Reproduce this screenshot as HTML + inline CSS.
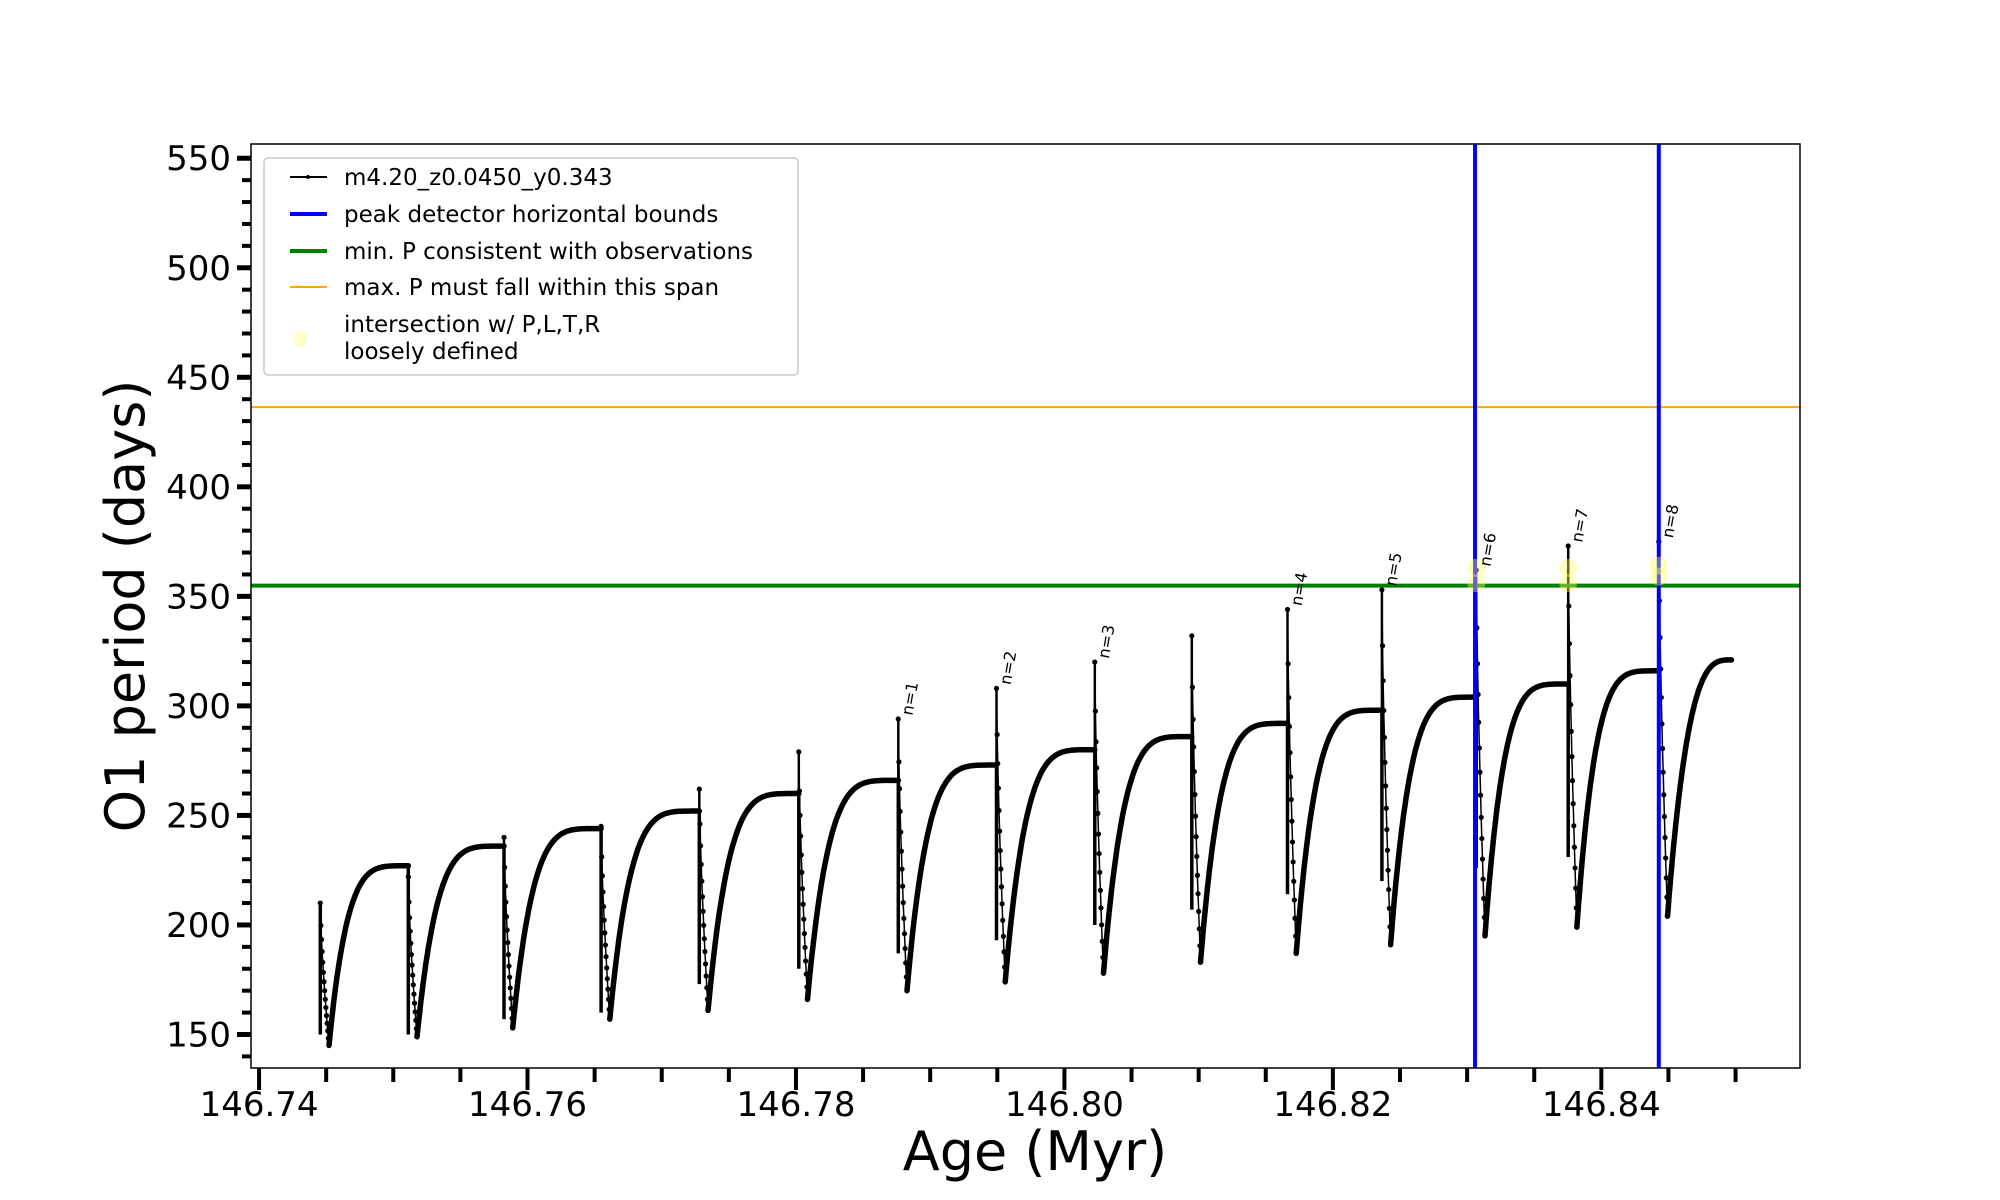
<!DOCTYPE html>
<html><head><meta charset="utf-8"><style>
body{margin:0;background:#fff}
svg{display:block;font-family:"DejaVu Sans","Liberation Sans",sans-serif}
</style></head><body>
<svg id="chart" width="2000" height="1200" viewBox="0 0 2000 1200">
<rect width="2000" height="1200" fill="#fff"/>
<g id="plot"></g>
</svg>
<script>
const pulseAge=[146.74456,146.75112,146.75825,146.76548,146.77280,146.78021,146.78762,146.79494,146.80226,146.80949,146.81662,146.82365,146.83068,146.83753,146.84428];
const plateauP=[227,236,244,252,260,266,273,280,286,292,298,304,310,316];
const peakP=[210,222,240,245,262,279,294,308,320,332,344,353,362,373,375];
const legP=[150,150,157,160,173,180,187,193,200,207,214,220,226,231,236];
const minP=[145,149,153,157,161,166,170,174,178,183,187,191,195,199,204];
const endAge=146.8497, endP=321;
const nLabels=["n=1","n=2","n=3","n=4","n=5","n=6","n=7","n=8"];
const nIndex=[6,7,8,10,11,12,13,14];
const boundAges=[146.83059,146.84428];
const minPline=354.9, maxPline=436.4;
const interAges=[146.83068,146.83068,146.83753,146.83753,146.84428,146.84428];
const interP=[363,356,363,356,364,359];
const yTicks=[150,200,250,300,350,400,450,500,550];
const xTicks=[146.74,146.76,146.78,146.80,146.82,146.84];

const L=251,R=1800,T=144,B=1068;
const x0=146.7394,x1=146.8548,y0=134.7,y1=556.5;
const X=v=>L+(v-x0)/(x1-x0)*(R-L);
const Y=v=>B-(v-y0)/(y1-y0)*(B-T);
const NS="http://www.w3.org/2000/svg";
const g=document.getElementById('plot');
function el(tag,attrs,parent){const e=document.createElementNS(NS,tag);for(const k in attrs)e.setAttribute(k,attrs[k]);(parent||g).appendChild(e);return e;}
const toPath=a=>a.map((p,j)=>(j?'L':'M')+X(p[0]).toFixed(1)+' '+Y(p[1]).toFixed(1)).join(' ');

for(let i=0;i<pulseAge.length;i++){
  const t=pulseAge[i];
  const prevPl=i>0?plateauP[i-1]:peakP[0];
  const tm=t+0.00065;
  let p=el('path',{d:toPath([[t,prevPl],[t,peakP[i]]]),stroke:'#000','stroke-width':2.5,fill:'none'});
  
  
  p=el('path',{d:toPath([[t,prevPl],[t,legP[i]]]),stroke:'#000','stroke-width':3.5,fill:'none'});
  
  
  const desc=[];for(let k=0;k<=14;k++){const s=k/14;desc.push([t+(tm-t)*s,peakP[i]-(peakP[i]-minP[i])*Math.pow(s,0.7)]);}
  p=el('path',{d:toPath(desc),stroke:'#000','stroke-width':1.5,fill:'none'});
  
  
  desc.forEach(q=>el('circle',{cx:X(q[0]),cy:Y(q[1]),r:2.6,fill:'#000'}));
  const tEnd=i<pulseAge.length-1?pulseAge[i+1]:endAge;
  const pEnd=i<pulseAge.length-1?plateauP[i]:endP;
  const pts=[];
  for(let k=0;k<=100;k++){const s=k/100;const f=i<pulseAge.length-1?1-Math.pow(1-s,4.5):1-Math.pow(1-s,3.2);pts.push([tm+(tEnd-tm)*s,minP[i]+(pEnd-minP[i])*f]);}
  p=el('path',{d:toPath(pts),stroke:'#000','stroke-width':5.5,fill:'none','stroke-linejoin':'round','stroke-linecap':'round'});
  
  
}

let h=el('line',{x1:L,x2:R,y1:Y(maxPline),y2:Y(maxPline),stroke:'orange','stroke-width':2});


h=el('line',{x1:L,x2:R,y1:Y(minPline),y2:Y(minPline),stroke:'green','stroke-width':4});


boundAges.forEach(a=>{const v=el('line',{x1:X(a),x2:X(a),y1:T,y2:B,stroke:'#0000ff','stroke-width':4});

});
interAges.forEach((a,i)=>{const c=el('circle',{cx:X(a),cy:Y(interP[i]),r:9,fill:'#ffff66','fill-opacity':0.4});

});
nLabels.forEach((s,i)=>{const j=nIndex[i];const x=X(pulseAge[j])+14,y=Y(peakP[j])-3;
const t=el('text',{x:x,y:y,'font-size':16,transform:`rotate(-80 ${x} ${y})`});t.textContent=s;

});

const fr=el('rect',{x:L,y:T,width:R-L,height:B-T,fill:'none',stroke:'#000','stroke-width':1.5});


for(let v=140;v<=556;v+=10){const maj=v%50===0;el('line',{x1:L,x2:L-(maj?14:9),y1:Y(v),y2:Y(v),stroke:'#000','stroke-width':maj?5:4});}
yTicks.forEach(v=>{const t=el('text',{x:L-20,y:Y(v)+12,'font-size':34,'text-anchor':'end'});t.textContent=v;

});
for(let k=0;k<=22;k++){const v=146.74+k*0.005;if(v>x1)break;const maj=k%4===0;el('line',{x1:X(v),x2:X(v),y1:B,y2:B+(maj?22:14),stroke:'#000','stroke-width':4});}
xTicks.forEach(v=>{const t=el('text',{x:X(v),y:B+48,'font-size':34,'text-anchor':'middle'});t.textContent=v.toFixed(2);

});
let xl=el('text',{x:1035,y:1170,'font-size':54,'text-anchor':'middle'});xl.textContent='Age (Myr)';


let yl=el('text',{x:0,y:0,'font-size':54,'text-anchor':'middle',transform:'translate(144 606) rotate(-90)'});yl.textContent='O1 period (days)';



const lg=el('g',{});


el('rect',{x:264,y:158,width:534,height:217,rx:4,fill:'#fff','fill-opacity':0.85,stroke:'#ccc','stroke-width':1.5},lg);
const items=[['m4.20_z0.0450_y0.343','#000',2,177],['peak detector horizontal bounds','#0000ff',4,214],['min. P consistent with observations','green',4,251],['max. P must fall within this span','orange',2,287]];
items.forEach(it=>{const e=el('g',{},lg);


el('line',{x1:290,x2:327,y1:it[3],y2:it[3],stroke:it[1],'stroke-width':it[2]},e);
if(it[1]==='#000')el('circle',{cx:308,cy:it[3],r:2,fill:'#000'},e);
const t=el('text',{x:344,y:it[3]+8,'font-size':23},e);t.textContent=it[0];});
const e5=el('g',{},lg);


el('ellipse',{cx:300,cy:339,rx:7,ry:8,fill:'#ffff66','fill-opacity':0.35},e5);
let t1=el('text',{x:344,y:332,'font-size':23},e5);t1.textContent='intersection w/ P,L,T,R';
let t2=el('text',{x:344,y:359,'font-size':23},e5);t2.textContent='loosely defined';
</script>
</body></html>
